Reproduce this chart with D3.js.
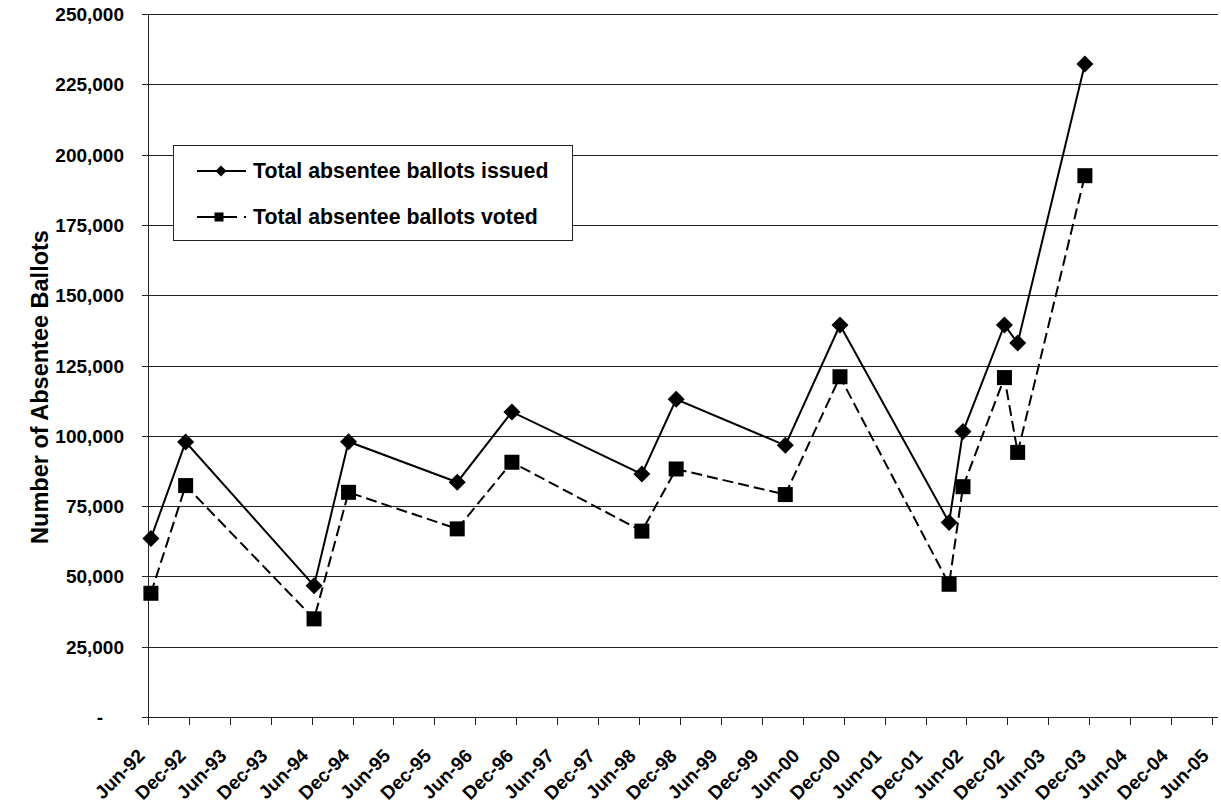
<!DOCTYPE html>
<html>
<head>
<meta charset="utf-8">
<script src="https://cdn.jsdelivr.net/npm/d3@7"></script>
<style>
  html, body { margin: 0; padding: 0; background: #fff; }
  svg { display: block; font-family: "Liberation Sans", Arial, sans-serif; font-weight: bold; }
</style>
</head>
<body>
<svg id="chart" width="1221" height="803"></svg>
<script>
// ---- Data ----
const electionDates = ["1992-06-14","1992-11-16","1994-06-12","1994-11-13","1996-03-12","1996-11-11",
  "1998-06-14","1998-11-14","2000-03-15","2000-11-14","2002-03-16","2002-05-17","2002-11-18","2003-01-16","2003-11-12"];
const issued = [63500, 97800, 46700, 97900, 83500, 108500, 86400, 113000, 96600, 139400, 69200, 101500, 139400, 133000, 232200];
const voted  = [44000, 82300, 34900, 79900, 66900, 90600, 66100, 88200, 79100, 121000, 47200, 81900, 120700, 94100, 192500];
const seriesNames = ["Total absentee ballots issued", "Total absentee ballots voted"];
const tickDates = ["1992-06-01","1992-12-01","1993-06-01","1993-12-01","1994-06-01","1994-12-01","1995-06-01","1995-12-01",
  "1996-06-01","1996-12-01","1997-06-01","1997-12-01","1998-06-01","1998-12-01","1999-06-01","1999-12-01",
  "2000-06-01","2000-12-01","2001-06-01","2001-12-01","2002-06-01","2002-12-01","2003-06-01","2003-12-01",
  "2004-06-01","2004-12-01","2005-06-01"];
const tickLabels = ["Jun-92","Dec-92","Jun-93","Dec-93","Jun-94","Dec-94","Jun-95","Dec-95","Jun-96","Dec-96",
  "Jun-97","Dec-97","Jun-98","Dec-98","Jun-99","Dec-99","Jun-00","Dec-00","Jun-01","Dec-01","Jun-02","Dec-02",
  "Jun-03","Dec-03","Jun-04","Dec-04","Jun-05"];
const yTicks = [0, 25000, 50000, 75000, 100000, 125000, 150000, 175000, 200000, 225000, 250000];
const yTitle = "Number of Absentee Ballots";

// ---- Setup ----
const parse = d3.timeParse("%Y-%m-%d");
const svg = d3.select("#chart");
const plotL = 148, plotR = 1218, plotT = 14, plotB = 717;

const x = d3.scaleTime()
  .domain([parse("1992-06-01"), parse("2005-06-28")])
  .range([plotL, plotR]);
const y = d3.scaleLinear().domain([0, 250000]).range([plotB, plotT]);

// gridlines + y tick marks
svg.append("g").selectAll("line").data(yTicks).join("line")
  .attr("x1", plotL - 6).attr("x2", plotR)
  .attr("y1", d => Math.round(y(d)) + 0.5).attr("y2", d => Math.round(y(d)) + 0.5)
  .attr("stroke", "#222").attr("stroke-width", 1);

// y axis line
svg.append("line")
  .attr("x1", plotL + 0.5).attr("x2", plotL + 0.5)
  .attr("y1", plotT).attr("y2", plotB + 1)
  .attr("stroke", "#222").attr("stroke-width", 1);

// y tick labels
const fmt = d3.format(",");
svg.append("g").selectAll("text").data(yTicks).join("text")
  .attr("x", d => d === 0 ? 103 : 124)
  .attr("y", d => y(d) + 7)
  .attr("text-anchor", "end")
  .attr("font-size", "19px")
  .attr("fill", "#000")
  .text(d => d === 0 ? "-" : fmt(d));

// x ticks
const tickData = tickDates.map((d, i) => ({ date: parse(d), label: tickLabels[i] }));
svg.append("g").selectAll("line").data(tickData).join("line")
  .attr("x1", d => Math.round(x(d.date)) + 0.5).attr("x2", d => Math.round(x(d.date)) + 0.5)
  .attr("y1", plotB).attr("y2", plotB + 8)
  .attr("stroke", "#222").attr("stroke-width", 1);

svg.append("g").selectAll("text").data(tickData).join("text")
  .attr("transform", d => `translate(${x(d.date) - 2},${757}) rotate(-45)`)
  .attr("text-anchor", "end")
  .attr("font-size", "19px")
  .attr("fill", "#000")
  .text(d => d.label);

// y title
svg.append("text")
  .attr("transform", `translate(48,387) rotate(-90)`)
  .attr("text-anchor", "middle")
  .attr("font-size", "23.5px")
  .attr("fill", "#000")
  .text(yTitle);

// ---- Series ----
const dates = electionDates.map(parse);
const issuedPts = dates.map((d, i) => ({ date: d, v: issued[i] }));
const votedPts = dates.map((d, i) => ({ date: d, v: voted[i] }));
const line = d3.line().x(d => x(d.date)).y(d => y(d.v));

svg.append("path").datum(votedPts)
  .attr("d", line).attr("fill", "none")
  .attr("stroke", "#000").attr("stroke-width", 2)
  .attr("stroke-dasharray", "11,5");

svg.append("path").datum(issuedPts)
  .attr("d", line).attr("fill", "none")
  .attr("stroke", "#000").attr("stroke-width", 2);

const diamond = (cx, cy, r) => `M${cx},${cy - r}L${cx + r},${cy}L${cx},${cy + r}L${cx - r},${cy}Z`;

svg.append("g").selectAll("rect").data(votedPts).join("rect")
  .attr("x", d => x(d.date) - 7.5).attr("y", d => y(d.v) - 7.5)
  .attr("width", 15).attr("height", 15).attr("fill", "#000");

svg.append("g").selectAll("path").data(issuedPts).join("path")
  .attr("d", d => diamond(x(d.date), y(d.v), 8.5)).attr("fill", "#000");

// ---- Legend ----
const lg = svg.append("g");
lg.append("rect").attr("x", 173.5).attr("y", 145.5).attr("width", 399).attr("height", 95)
  .attr("fill", "#fff").attr("stroke", "#222").attr("stroke-width", 1);
const ly = [171, 217];
lg.append("line").attr("x1", 197).attr("x2", 246).attr("y1", ly[0]).attr("y2", ly[0])
  .attr("stroke", "#000").attr("stroke-width", 2);
lg.append("path").attr("d", diamond(221, ly[0], 5.5)).attr("fill", "#000");
lg.append("line").attr("x1", 197).attr("x2", 246).attr("y1", ly[1]).attr("y2", ly[1])
  .attr("stroke", "#000").attr("stroke-width", 2).attr("stroke-dasharray", "40,7,2");
lg.append("rect").attr("x", 214.5).attr("y", ly[1] - 4.5).attr("width", 9).attr("height", 9).attr("fill", "#000");
lg.selectAll("text.lt").data(seriesNames).join("text")
  .attr("class", "lt")
  .attr("x", 253).attr("y", (d, i) => ly[i] + 7)
  .attr("font-size", "21.3px").attr("fill", "#000")
  .text(d => d);
</script>
</body>
</html>
